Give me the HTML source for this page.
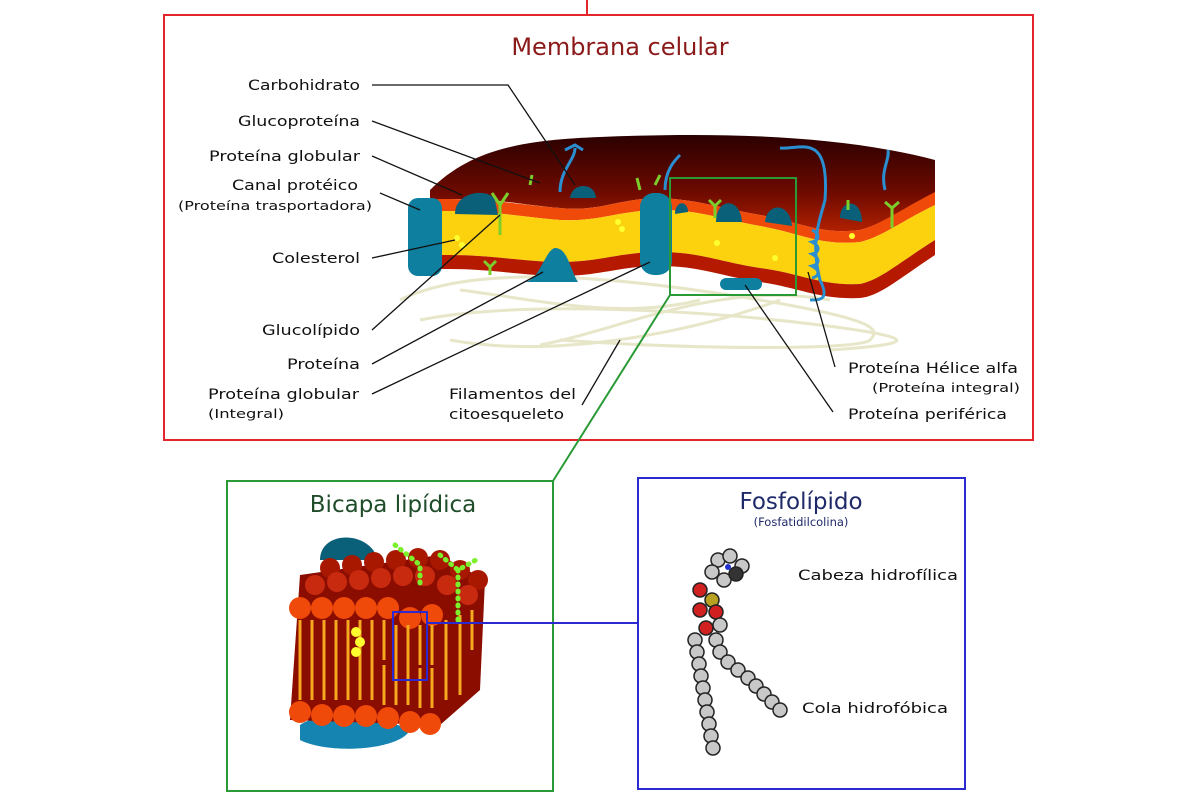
<!DOCTYPE html>
<html><head><meta charset="utf-8"><style>
html,body{margin:0;padding:0;background:#fff}
svg{display:block}
text{font-family:"DejaVu Sans","Liberation Sans",sans-serif;fill:#111}
</style></head><body>
<svg width="1200" height="800" viewBox="0 0 1200 800" xmlns="http://www.w3.org/2000/svg">
<defs>
<linearGradient id="dk" x1="0" y1="0" x2="0" y2="1">
<stop offset="0" stop-color="#2a0000"/><stop offset="0.6" stop-color="#6e0a00"/><stop offset="1" stop-color="#b02000"/>
</linearGradient>
</defs>
<line x1="587" y1="0" x2="587" y2="14" stroke="#e3262c" stroke-width="2"/>
<rect x="164" y="15" width="869" height="425" fill="none" stroke="#e3262c" stroke-width="2"/>
<rect x="227" y="481" width="326" height="310" fill="none" stroke="#2a9a35" stroke-width="2"/>
<rect x="638" y="478" width="327" height="311" fill="none" stroke="#2a2ad0" stroke-width="2"/>

<g fill="none" stroke="#e8e6c8" stroke-width="3">
<path d="M400 300 C480 260 640 280 760 300 S880 330 870 340 S700 350 560 340"/>
<path d="M420 320 C520 300 700 310 820 325 S900 345 830 350"/>
<path d="M450 340 C560 360 700 330 780 300"/>
<path d="M540 345 C620 330 720 280 830 300"/>
<path d="M460 290 C540 300 620 320 700 300"/>
</g>

<path d="M430 190 C470 150 520 140 600 137 C720 132 840 135 935 160 L935 200 C900 210 880 225 860 230 C820 235 800 222 760 215 C720 208 700 200 660 198 C620 198 600 212 560 208 C520 205 490 196 430 200 Z" fill="url(#dk)"/>
<path d="M420 200 C480 196 520 205 560 208 C600 212 620 198 660 198 C700 200 720 208 760 215 C800 222 820 235 860 230 C880 225 900 210 935 192 L935 205 C900 222 880 238 860 242 C820 246 800 233 760 226 C720 219 700 210 660 210 C620 210 600 222 560 220 C520 217 480 208 420 212 Z" fill="#f04a0a"/>
<path d="M420 212 C480 208 520 217 560 220 C600 222 620 210 660 210 C700 210 720 219 760 226 C800 233 820 246 860 242 C880 238 900 222 935 205 L935 240 C900 262 880 280 860 284 C820 286 800 273 760 268 C720 262 700 252 660 252 C620 252 600 262 560 262 C520 262 480 252 420 256 Z" fill="#fcd20f"/>
<path d="M420 256 C480 252 520 262 560 262 C600 262 620 252 660 252 C700 252 720 262 760 268 C800 273 820 286 860 284 C880 280 900 262 935 240 L935 255 C900 278 880 296 860 298 C820 300 800 288 760 282 C720 276 700 266 660 266 C620 266 600 276 560 276 C520 276 480 266 420 270 Z" fill="#b51a00"/>
<g fill="#0f7fa0">
<rect x="408" y="198" width="34" height="78" rx="10"/>
<path d="M455 214 C455 190 490 188 495 200 L498 215 Z" fill="#0a6078"/>
<path d="M570 198 C572 182 595 182 596 198 Z" fill="#0a6078"/>
<rect x="640" y="193" width="32" height="82" rx="14"/>
<path d="M525 282 C540 280 545 250 555 248 C568 248 570 270 578 282 Z"/>
<path d="M716 222 C716 198 740 196 742 222 Z" fill="#0a6078"/>
<path d="M765 222 C767 202 790 202 792 226 Z" fill="#0a6078"/>
<path d="M840 218 C840 198 862 198 862 222 Z" fill="#0a6078"/>
<rect x="720" y="278" width="42" height="12" rx="6"/>
<path d="M675 214 C675 200 688 200 688 212 Z" fill="#0a6078"/>
</g>
<g fill="none" stroke="#2a8fd0" stroke-width="3">
<path d="M560 192 C560 170 575 160 575 148 M565 150 l10 -5 l8 5"/>
<path d="M665 190 C665 170 675 160 680 155"/>
<path d="M780 148 C800 150 830 130 825 200 C820 220 810 240 820 280 C830 300 820 300 810 300"/>
<path d="M885 190 C880 170 890 160 888 150"/>
<path d="M812 230 c8 4 8 10 0 12 c8 4 8 10 0 12 c8 4 8 10 0 12 c8 4 8 10 0 12"/>
</g>
<g fill="none" stroke="#7ccf2a" stroke-width="3">
<path d="M500 235 L500 205 M500 205 l-8 -12 M500 205 l8 -12"/>
<path d="M530 185 l2 -10 M640 190 l-3 -12 M655 185 l5 -10 M715 218 l0 -12 l-6 -6 M715 206 l6 -6"/>
<path d="M892 228 l0 -20 l-7 -6 M892 208 l7 -6 M848 210 l0 -10 M490 275 l0 -8 l-6 -6 M490 267 l6 -6"/>
</g>
<g fill="#ffff30"><circle cx="457" cy="238" r="3"/><circle cx="462" cy="245" r="3"/><circle cx="618" cy="222" r="3"/><circle cx="622" cy="229" r="3"/><circle cx="717" cy="243" r="3"/><circle cx="775" cy="258" r="3"/><circle cx="852" cy="236" r="3"/></g>
<rect x="670" y="178" width="126" height="117" fill="none" stroke="#2a9a35" stroke-width="2"/>
<line x1="670" y1="295" x2="553" y2="481" stroke="#2a9a35" stroke-width="2"/>

<g stroke="#111" stroke-width="1.3" fill="none">
<polyline points="372,85 508,85 575,185"/>
<line x1="372" y1="121" x2="540" y2="183"/>
<line x1="372" y1="156" x2="462" y2="195"/>
<line x1="380" y1="193" x2="420" y2="210"/>
<line x1="372" y1="258" x2="455" y2="240"/>
<line x1="372" y1="330" x2="500" y2="215"/>
<line x1="372" y1="364" x2="543" y2="272"/>
<line x1="372" y1="394" x2="650" y2="262"/>
<line x1="582" y1="405" x2="620" y2="340"/>
<line x1="835" y1="367" x2="808" y2="272"/>
<line x1="833" y1="412" x2="745" y2="285"/>
</g>

<text x="620" y="55" font-size="24" text-anchor="middle" style="fill:#8b1a1a">Membrana celular</text>
<g font-size="14.5" lengthAdjust="spacingAndGlyphs">
<text x="248" y="90" textLength="112" lengthAdjust="spacingAndGlyphs">Carbohidrato</text>
<text x="238" y="126" textLength="122" lengthAdjust="spacingAndGlyphs">Glucoproteína</text>
<text x="209" y="161" textLength="151" lengthAdjust="spacingAndGlyphs">Proteína globular</text>
<text x="232" y="190" textLength="126" lengthAdjust="spacingAndGlyphs">Canal protéico</text>
<text x="178" y="210" font-size="12.5" textLength="194" lengthAdjust="spacingAndGlyphs">(Proteína trasportadora)</text>
<text x="272" y="263" textLength="88" lengthAdjust="spacingAndGlyphs">Colesterol</text>
<text x="262" y="335" textLength="98" lengthAdjust="spacingAndGlyphs">Glucolípido</text>
<text x="287" y="369" textLength="73" lengthAdjust="spacingAndGlyphs">Proteína</text>
<text x="208" y="399" textLength="151" lengthAdjust="spacingAndGlyphs">Proteína globular</text>
<text x="208" y="418" font-size="12.5" textLength="76" lengthAdjust="spacingAndGlyphs">(Integral)</text>
<text x="449" y="399" textLength="127" lengthAdjust="spacingAndGlyphs">Filamentos del</text>
<text x="449" y="419" textLength="115" lengthAdjust="spacingAndGlyphs">citoesqueleto</text>
<text x="848" y="373" textLength="170" lengthAdjust="spacingAndGlyphs">Proteína Hélice alfa</text>
<text x="872" y="392" font-size="12.5" textLength="148" lengthAdjust="spacingAndGlyphs">(Proteína integral)</text>
<text x="848" y="419" textLength="159" lengthAdjust="spacingAndGlyphs">Proteína periférica</text>
<text x="798" y="580" textLength="160" lengthAdjust="spacingAndGlyphs">Cabeza hidrofílica</text>
<text x="802" y="713" textLength="146" lengthAdjust="spacingAndGlyphs">Cola hidrofóbica</text>
</g>
<text x="393" y="512" font-size="23" text-anchor="middle" style="fill:#1f4d2a">Bicapa lipídica</text>
<text x="801" y="509" font-size="23" text-anchor="middle" style="fill:#1f2a6a">Fosfolípido</text>
<text x="801" y="526" font-size="11.5" text-anchor="middle" style="fill:#1f2a6a">(Fosfatidilcolina)</text>

<!-- bicapa -->
<path d="M320 560 C320 530 370 530 378 560 Z" fill="#0a6078"/>
<path d="M300 725 C320 710 380 715 410 730 C400 750 330 755 300 740 Z" fill="#1584b0"/>
<path d="M300 575 L440 555 L485 580 L480 690 L440 725 L290 720 Z" fill="#8b0d00"/>
<g fill="#a81800">
<circle cx="330" cy="568" r="10"/><circle cx="352" cy="565" r="10"/><circle cx="374" cy="562" r="10"/><circle cx="396" cy="560" r="10"/><circle cx="418" cy="558" r="10"/><circle cx="440" cy="560" r="10"/><circle cx="460" cy="570" r="10"/><circle cx="478" cy="580" r="10"/>
</g>
<g fill="#c82a10">
<circle cx="315" cy="585" r="10"/><circle cx="337" cy="582" r="10"/><circle cx="359" cy="580" r="10"/><circle cx="381" cy="578" r="10"/><circle cx="403" cy="576" r="10"/><circle cx="425" cy="576" r="10"/><circle cx="447" cy="585" r="10"/><circle cx="468" cy="595" r="10"/>
</g>
<g fill="#f04a0a">
<circle cx="300" cy="608" r="11"/><circle cx="322" cy="608" r="11"/><circle cx="344" cy="608" r="11"/><circle cx="366" cy="608" r="11"/><circle cx="388" cy="608" r="11"/><circle cx="410" cy="618" r="11"/><circle cx="432" cy="615" r="11"/>
<circle cx="300" cy="712" r="11"/><circle cx="322" cy="715" r="11"/><circle cx="344" cy="716" r="11"/><circle cx="366" cy="716" r="11"/><circle cx="388" cy="718" r="11"/><circle cx="410" cy="722" r="11"/><circle cx="430" cy="724" r="11"/>
</g>
<g stroke="#f5a820" stroke-width="3" fill="none">
<path d="M300 620 v40 M312 620 v40 M324 620 v40 M336 620 v40 M348 620 v40 M360 620 v40 M372 620 v40 M384 620 v40 M396 625 v40 M408 625 v40 M420 625 v40 M432 625 v40 M446 620 v40 M460 615 v40 M472 610 v40"/>
<path d="M300 660 v40 M312 660 v40 M324 660 v40 M336 660 v40 M348 660 v40 M360 660 v40 M372 660 v40 M384 665 v40 M396 665 v40 M408 665 v40 M420 668 v40 M432 668 v40 M446 660 v40 M460 655 v40"/>
</g>
<g fill="#ffff30"><circle cx="356" cy="632" r="5"/><circle cx="360" cy="642" r="5"/><circle cx="356" cy="652" r="5"/></g>
<g stroke="#7cf02a" stroke-width="5" fill="none" stroke-linecap="round" stroke-dasharray="1 6">
<path d="M395 545 l25 20 v20 M440 555 l18 15 l18 -10 M458 570 v50"/>
</g>
<rect x="393" y="612" width="34" height="68" fill="none" stroke="#2a2ad0" stroke-width="2"/>
<line x1="427" y1="623" x2="638" y2="623" stroke="#2a2ad0" stroke-width="2"/>

<!-- phospholipid -->
<g fill="#c8c8c8" stroke="#222" stroke-width="1.5">
<circle cx="718" cy="560" r="7"/><circle cx="730" cy="556" r="7"/><circle cx="742" cy="566" r="7"/><circle cx="712" cy="572" r="7"/><circle cx="724" cy="580" r="7"/><circle cx="736" cy="574" r="7" fill="#333"/>
<circle cx="700" cy="590" r="7" fill="#d02020"/><circle cx="712" cy="600" r="7" fill="#b8a020"/><circle cx="700" cy="610" r="7" fill="#d02020"/><circle cx="716" cy="612" r="7" fill="#d02020"/><circle cx="706" cy="628" r="7" fill="#d02020"/><circle cx="720" cy="625" r="7"/>
</g>
<g fill="#c8c8c8" stroke="#222" stroke-width="1.5">
<circle cx="695" cy="640" r="7"/><circle cx="697" cy="652" r="7"/><circle cx="699" cy="664" r="7"/><circle cx="701" cy="676" r="7"/><circle cx="703" cy="688" r="7"/><circle cx="705" cy="700" r="7"/><circle cx="707" cy="712" r="7"/><circle cx="709" cy="724" r="7"/><circle cx="711" cy="736" r="7"/><circle cx="713" cy="748" r="7"/>
<circle cx="716" cy="640" r="7"/><circle cx="720" cy="652" r="7"/><circle cx="728" cy="662" r="7"/><circle cx="738" cy="670" r="7"/><circle cx="748" cy="678" r="7"/><circle cx="756" cy="686" r="7"/><circle cx="764" cy="694" r="7"/><circle cx="772" cy="702" r="7"/><circle cx="780" cy="710" r="7"/>
</g>
<circle cx="728" cy="567" r="3" fill="#2030d0"/>
</svg>
</body></html>
